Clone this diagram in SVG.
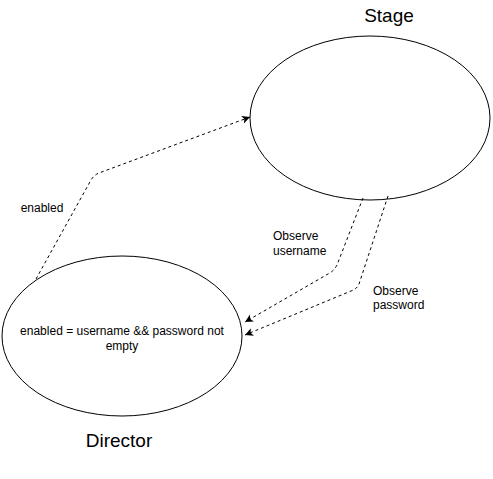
<svg xmlns="http://www.w3.org/2000/svg" width="493" height="479" viewBox="0 0 493 479">
<style>
.node{fill:#fff;stroke:#000;stroke-width:1}
.edge{fill:none;stroke:#000;stroke-width:1;stroke-dasharray:3,3}
text{font-family:"Liberation Sans",Arial,sans-serif;fill:#000}
.s{font-size:12px}
.t{font-size:19px}
</style>
<defs>
<marker id="ah" markerWidth="10" markerHeight="10" refX="8" refY="4" orient="auto" markerUnits="userSpaceOnUse">
<path d="M0,0 L8,4 L0,8 L2,4 Z" fill="#000"/>
</marker>
</defs>
<rect width="493" height="479" fill="#fff"/>
<g id="stage">
<ellipse class="node" cx="370" cy="118" rx="120" ry="82"/>
<text class="t" x="389" y="22" text-anchor="middle">Stage</text>
</g>
<g id="director">
<ellipse class="node" cx="122" cy="336" rx="120" ry="80"/>
<text class="s" text-anchor="middle"><tspan x="122" y="335">enabled = username &amp;&amp; password not</tspan><tspan x="122" y="350">empty</tspan></text>
<text class="t" x="119" y="447" text-anchor="middle">Director</text>
</g>
<g id="connectors">
<path class="edge" d="M36,279 L91,180 Q94,175 99,173 L250,117" marker-end="url(#ah)"/>
<path class="edge" d="M363,198 L337,265 Q334,271 328,274 L245,322" marker-end="url(#ah)"/>
<path class="edge" d="M388,196 L359,284 Q357,289 351,291 L245,335" marker-end="url(#ah)"/>
<text class="s" x="42" y="212" text-anchor="middle">enabled</text>
<text class="s" x="273" y="240">Observe</text>
<text class="s" x="273" y="255">username</text>
<text class="s" x="373" y="295">Observe</text>
<text class="s" x="373" y="309">password</text>
</g>
</svg>
